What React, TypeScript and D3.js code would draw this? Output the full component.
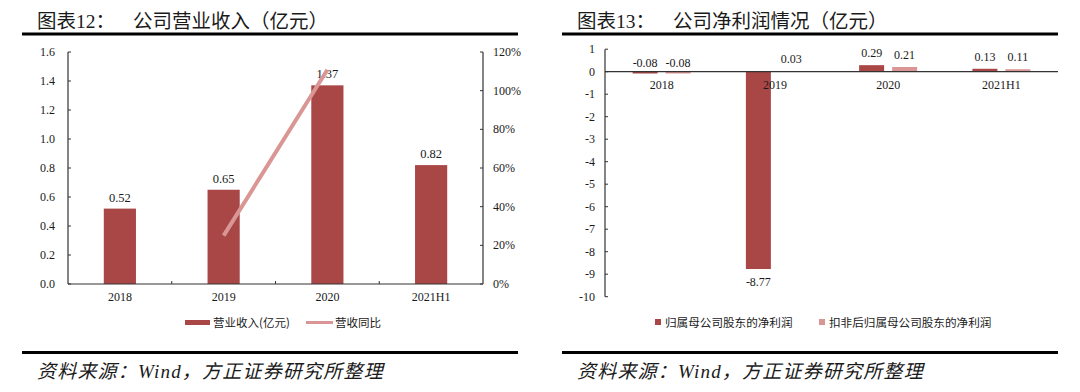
import React from "react";
import * as d3 from "d3";

const revCategories = ["2018", "2019", "2020", "2021H1"];
const revenue = [0.52, 0.65, 1.37, 0.82];
const revGrowth: (number | null)[] = [null, 25.0, 110.8, null];
const revTicks = [0, 0.2, 0.4, 0.6, 0.8, 1.0, 1.2, 1.4, 1.6];
const growthTicks = [0, 20, 40, 60, 80, 100, 120];

const profitCategories = ["2018", "2019", "2020", "2021H1"];
const netProfit = [-0.08, -8.77, 0.29, 0.13];
const deductedProfit = [-0.08, 0.03, 0.21, 0.11];
const profitTicks = [1, 0, -1, -2, -3, -4, -5, -6, -7, -8, -9, -10];
const profitSeries = ["归属母公司股东的净利润", "扣非后归属母公司股东的净利润"];

const RED = "#a94646";
const PINK = "#d99694";
const AXIS = "#333";
const TXT = "#1a1a1a";
const SERIF = "'Liberation Serif', 'Times New Roman', 'Noto Sans CJK SC', serif";
const CJK = "'Noto Sans CJK SC', sans-serif";

function Frame({ x0, x1, title, sub }: { x0: number; x1: number; title: string; sub: string }) {
  return (
    <g>
      <text x={x0 + 15} y={28} fontSize={19.5} fontFamily={SERIF} fill={TXT}>{title}</text>
      <text x={x0 + 111} y={28} fontSize={19.5} fontFamily={SERIF} fill={TXT}>{sub}</text>
      <line x1={x0} x2={x1} y1={34} y2={34} stroke="#000" strokeWidth={3} />
      <line x1={x0} x2={x1} y1={352.5} y2={352.5} stroke="#000" strokeWidth={3} />
      <text x={x0 + 15} y={378} fontSize={19} letterSpacing={1.2} fontStyle="italic" fontFamily={SERIF} fill={TXT}>
        资料来源：Wind，方正证券研究所整理
      </text>
    </g>
  );
}

function RevenueChart() {
  const left = 68, right = 483, top = 52, bottom = 284;
  const x = d3.scaleBand<string>().domain(revCategories).range([left, right]).padding(0);
  const y = d3.scaleLinear().domain([0, 1.6]).range([bottom, top]);
  const y2 = d3.scaleLinear().domain([0, 120]).range([bottom, top]);
  const bw = x.bandwidth() * 0.31;
  const cx = (c: string) => (x(c) as number) + x.bandwidth() / 2;
  const lineData = revCategories
    .map((c, i) => ({ c, v: revGrowth[i] }))
    .filter((d) => d.v !== null) as { c: string; v: number }[];
  const line = d3.line<{ c: string; v: number }>().x((d) => cx(d.c)).y((d) => y2(d.v));
  return (
    <g>
      {revCategories.map((c, i) => (
        <g key={c}>
          <rect x={cx(c) - bw / 2} y={y(revenue[i])} width={bw} height={bottom - y(revenue[i])} fill={RED} />
          <text x={cx(c)} y={y(revenue[i]) - 7} textAnchor="middle" fontSize={12.5} fontFamily={SERIF} fill={TXT}>
            {revenue[i].toFixed(2)}
          </text>
          <text x={cx(c)} y={301} textAnchor="middle" fontSize={12} fontFamily={SERIF} fill={TXT}>{c}</text>
        </g>
      ))}
      <path d={line(lineData) || ""} fill="none" stroke={PINK} strokeWidth={4} />
      <line x1={left} x2={left} y1={top} y2={bottom} stroke={AXIS} strokeWidth={1.2} />
      <line x1={right} x2={right} y1={top} y2={bottom} stroke={AXIS} strokeWidth={1.2} />
      <line x1={left} x2={right} y1={bottom} y2={bottom} stroke={AXIS} strokeWidth={1.2} />
      {revTicks.map((t) => (
        <g key={"l" + t}>
          <line x1={left} x2={left + 3} y1={y(t)} y2={y(t)} stroke={AXIS} />
          <text x={55} y={y(t) + 4} textAnchor="end" fontSize={12} fontFamily={SERIF} fill={TXT}>{t.toFixed(1)}</text>
        </g>
      ))}
      {growthTicks.map((t) => (
        <g key={"r" + t}>
          <line x1={right - 3} x2={right} y1={y2(t)} y2={y2(t)} stroke={AXIS} />
          <text x={493} y={y2(t) + 4} fontSize={12} fontFamily={SERIF} fill={TXT}>{t + "%"}</text>
        </g>
      ))}
      {revCategories.slice(1).map((c) => (
        <line key={"xt" + c} x1={x(c) as number} x2={x(c) as number} y1={bottom} y2={bottom - 3} stroke={AXIS} />
      ))}
      <rect x={185} y={320} width={25} height={5} fill={RED} />
      <text x={213} y={326.5} fontSize={11.5} fontFamily={CJK} fill={TXT}>营业收入(亿元)</text>
      <rect x={306} y={321} width={27} height={3} fill={PINK} />
      <text x={335} y={326.5} fontSize={11.5} fontFamily={CJK} fill={TXT}>营收同比</text>
    </g>
  );
}

function ProfitChart() {
  const left = 605, right = 1058, top = 49.2, bottom = 296.7;
  const x = d3.scaleBand<string>().domain(profitCategories).range([left, right]).padding(0);
  const x1 = d3.scaleBand<string>().domain(profitSeries).range([-29, 29]).paddingInner(0.2424);
  const y = d3.scaleLinear().domain([-10, 1]).range([bottom, top]);
  const cx = (c: string) => (x(c) as number) + x.bandwidth() / 2;
  const data = [netProfit, deductedProfit];
  const colors = [RED, PINK];
  return (
    <g>
      {profitSeries.map((s, si) =>
        profitCategories.map((c, i) => {
          const v = data[si][i];
          const bx = cx(c) + (x1(s) as number);
          const y0 = y(0);
          const yv = y(v);
          const labelY = v >= 0 ? yv - 8 : v < -1 ? yv + 17 : y0 - 5;
          return (
            <g key={s + c}>
              <rect x={bx} y={Math.min(y0, yv)} width={x1.bandwidth()} height={Math.abs(yv - y0)} fill={colors[si]} />
              <text x={bx + x1.bandwidth() / 2} y={labelY} textAnchor="middle" fontSize={12} fontFamily={SERIF} fill={TXT}>
                {v.toFixed(2)}
              </text>
            </g>
          );
        })
      )}
      <line x1={left} x2={left} y1={top} y2={bottom} stroke={AXIS} strokeWidth={1.2} />
      <line x1={left} x2={right} y1={y(0)} y2={y(0)} stroke={AXIS} strokeWidth={1.2} />
      {profitTicks.map((t) => (
        <g key={"p" + t}>
          <line x1={left} x2={left + 3} y1={y(t)} y2={y(t)} stroke={AXIS} />
          <text x={595} y={y(t) + 4} textAnchor="end" fontSize={12} fontFamily={SERIF} fill={TXT}>{t}</text>
        </g>
      ))}
      {profitCategories.map((c) => (
        <text key={"c" + c} x={cx(c)} y={89} textAnchor="middle" fontSize={12} fontFamily={SERIF} fill={TXT}>{c}</text>
      ))}
      <rect x={655} y={319} width={6} height={6} fill={RED} />
      <text x={665} y={326.5} fontSize={11.6} fontFamily={CJK} fill={TXT}>{profitSeries[0]}</text>
      <rect x={819} y={319} width={6} height={6} fill={PINK} />
      <text x={829} y={326.5} fontSize={11.6} fontFamily={CJK} fill={TXT}>{profitSeries[1]}</text>
    </g>
  );
}

export default function App() {
  return (
    <svg width={1080} height={392} style={{ position: "absolute", left: 0, top: 0, display: "block", background: "#fff" }}>
      <rect width={1080} height={392} fill="#fff" />
      <Frame x0={22} x1={518} title="图表12：" sub="公司营业收入（亿元）" />
      <Frame x0={562} x1={1058} title="图表13：" sub="公司净利润情况（亿元）" />
      <RevenueChart />
      <ProfitChart />
    </svg>
  );
}
